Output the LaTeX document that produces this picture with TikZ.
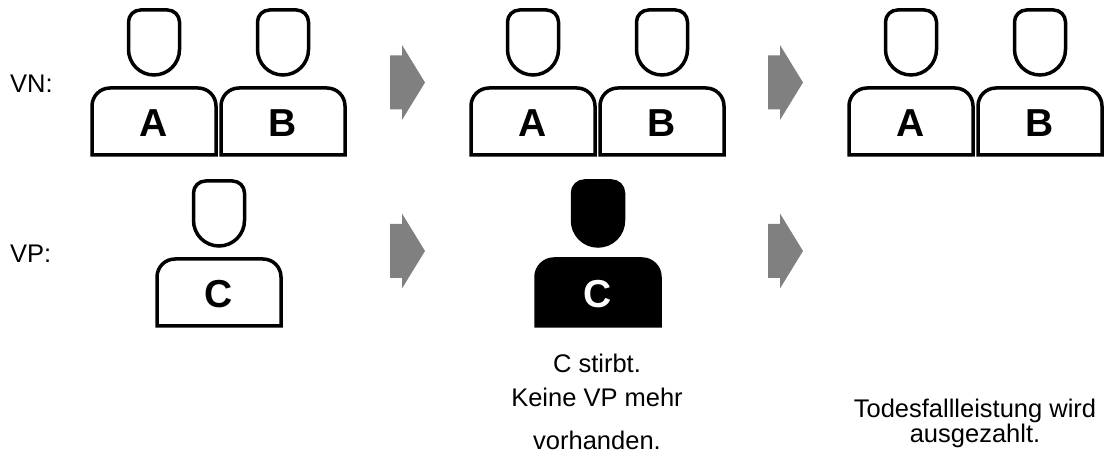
\documentclass[tikz,border=0pt]{standalone}
\usepackage{fontspec}
\setmainfont{Liberation Sans}
\usepackage{tikz}
\usetikzlibrary{positioning}

\begin{document}
\begin{tikzpicture}[
    x=1pt, y=1pt,
    figline/.style={line width=3.5pt, draw=black},
    lettr/.style={font=\fontsize{39}{39}\selectfont\bfseries, inner sep=0pt, anchor=base},
    txt/.style={font=\fontsize{25.5}{34}\selectfont, inner sep=0pt, align=center},
    pics/person/.style n args={3}{code={
        % head
        \draw[figline, fill=#2] (-25.5,105.5) -- (-25.5,133) arc[start angle=180, end angle=90, radius=12]
            -- (13.5,145) arc[start angle=90, end angle=0, radius=12] -- (25.5,105.5)
            arc[start angle=0, end angle=-180, radius=25.5] -- cycle;
        % body
        \draw[figline, fill=#2] (-62,0) -- (-62,49) arc[start angle=180, end angle=90, radius=18]
            -- (44,67) arc[start angle=90, end angle=0, radius=18] -- (62,0) -- cycle;
        \node[lettr, text=#3] (-lbl) at (0,18.5) {#1};
    }},
    pics/flowarrow/.style={code={
        \fill[gray] (0,-27) -- (12,-27) -- (12,-37.5) -- (35,0) -- (12,37.5) -- (12,27) -- (0,27) -- cycle;
    }}
]
  \useasboundingbox (0,0) rectangle (1104,457);

  % Row labels
  \node[txt, anchor=base west] (vn) at (10,364) {VN:};
  \node[txt, anchor=base west] (vp) at (10,194) {VP:};

  % Before
  \pic (a1) at (154,302) {person={A}{white}{black}};
  \pic (b1) at (283,302) {person={B}{white}{black}};
  \pic (c1) at (219,131) {person={C}{white}{black}};

  \pic (ar1) at (390,374.5) {flowarrow};
  \pic (ar2) at (390,206) {flowarrow};

  % C dies
  \pic (a2) at (533,302) {person={A}{white}{black}};
  \pic (b2) at (662,302) {person={B}{white}{black}};
  \pic (c2) at (598,131) {person={C}{black}{white}};

  \pic (ar3) at (768,374.5) {flowarrow};
  \pic (ar4) at (768,206) {flowarrow};

  % After
  \pic (a3) at (911,302) {person={A}{white}{black}};
  \pic (b3) at (1040,302) {person={B}{white}{black}};

  % Notes (base = last line)
  \node[txt, anchor=base] (died) at (597,7) {C stirbt.\\Keine VP mehr\\[9pt]vorhanden.};
  \node[txt, font=\fontsize{25.5}{25}\selectfont, anchor=base] (paid) at (975,14) {Todesfallleistung wird\\ausgezahlt.};

\end{tikzpicture}
\end{document}
